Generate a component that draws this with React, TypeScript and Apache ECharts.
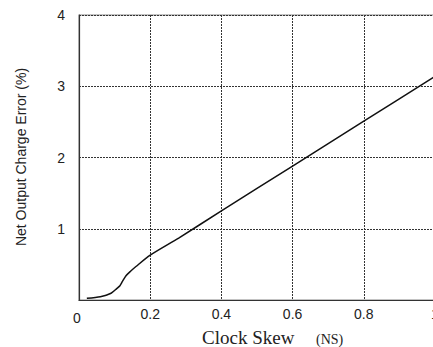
import React, { useEffect, useRef } from "react";
import * as echarts from "echarts";

const skewNs = [0.022, 0.06, 0.09, 0.106, 0.115, 0.122, 0.132, 0.144, 0.16, 0.2, 0.28, 0.4, 0.6, 0.8, 1.0];
const chargeErrorPct = [0.024, 0.046, 0.095, 0.16, 0.2, 0.26, 0.34, 0.4, 0.47, 0.63, 0.87, 1.25, 1.88, 2.51, 3.14];

const xTitle = "Clock Skew";
const xUnit = "(NS)";
const yTitle = "Net Output Charge Error (%)";

export default function App() {
  const ref = useRef<HTMLDivElement>(null);
  useEffect(() => {
    if (!ref.current) return;
    const chart = echarts.init(ref.current, null, { renderer: "svg" });
    const sans = "'Liberation Sans', Arial, sans-serif";
    const serif = "'Liberation Serif', 'Times New Roman', serif";
    const gridLine = { show: true, lineStyle: { color: "#333", width: 1, type: [2, 1] as any } };
    chart.setOption({
      animation: false,
      backgroundColor: "#fff",
      grid: {
        left: 79,
        top: 15,
        right: 17,
        bottom: 47,
        show: true,
        borderColor: "#888",
        borderWidth: 1.2,
        backgroundColor: "transparent",
      },
      xAxis: {
        type: "value",
        min: 0,
        max: 1,
        interval: 0.2,
        axisLine: { show: true, onZero: false, lineStyle: { color: "#333", width: 1.2 } },
        axisTick: { show: false },
        splitLine: gridLine,
        axisLabel: {
          fontFamily: sans,
          fontSize: 14,
          color: "#222",
          margin: 7,
          formatter: (v: number) => (v === 0 ? "" : String(Math.round(v * 10) / 10)),
        },
      },
      yAxis: {
        type: "value",
        min: 0,
        max: 4,
        interval: 1,
        axisLine: { show: true, lineStyle: { color: "#333", width: 1.2 } },
        axisTick: { show: false },
        splitLine: gridLine,
        axisLabel: {
          fontFamily: sans,
          fontSize: 14,
          color: "#222",
          margin: 14,
          formatter: (v: number) => (v === 0 ? "" : String(v)),
        },
      },
      series: [
        {
          type: "line",
          data: skewNs.map((x, i) => [x, chargeErrorPct[i]]),
          showSymbol: false,
          smooth: 0.25,
          lineStyle: { color: "#111", width: 1.5 },
        },
      ],
      graphic: [
        {
          type: "text",
          x: 77,
          y: 318,
          style: { text: "0", font: `14px ${sans}`, fill: "#222", align: "center", verticalAlign: "middle" },
        },
        {
          type: "text",
          x: 202,
          y: 337,
          style: { text: xTitle, font: `19px ${serif}`, fill: "#222", align: "left", verticalAlign: "middle" },
        },
        {
          type: "text",
          x: 316,
          y: 339,
          style: { text: xUnit, font: `14px ${serif}`, fill: "#222", align: "left", verticalAlign: "middle" },
        },
        {
          type: "text",
          x: 21,
          y: 157,
          rotation: Math.PI / 2,
          style: { text: yTitle, font: `14px ${sans}`, fill: "#222", align: "center", verticalAlign: "middle" },
        },
      ],
    });
    return () => chart.dispose();
  }, []);
  return (
    <div
      ref={ref}
      style={{ position: "fixed", left: 0, top: 0, width: 452, height: 347 }}
    />
  );
}
